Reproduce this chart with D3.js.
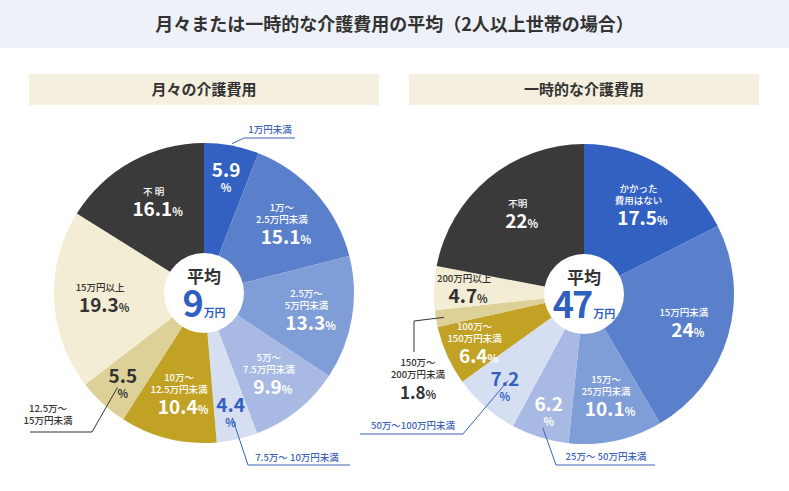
<!DOCTYPE html>
<html><head><meta charset="utf-8">
<script src="https://cdn.jsdelivr.net/npm/d3@7"></script>
<style>body{margin:0;background:#fff;font-family:"Noto Sans CJK JP","Noto Sans",sans-serif}</style>
</head><body><div id="chart"></div>
<script>
// monthly costs
const monthlyLabels = [["1万円未満"], ["1万～", "2.5万円未満"], ["2.5万～", "5万円未満"], ["5万～", "7.5万円未満"], ["7.5万～ 10万円未満"], ["10万～", "12.5万円未満"], ["12.5万～", "15万円未満"], ["15万円以上"], ["不 明"]];
const monthlyValues = [5.9, 15.1, 13.3, 9.9, 4.4, 10.4, 5.5, 19.3, 16.1];
// one-off costs
const onceLabels = [["かかった", "費用はない"], ["15万円未満"], ["15万～", "25万円未満"], ["25万～ 50万円未満"], ["50万～100万円未満"], ["100万～", "150万円未満"], ["150万～", "200万円未満"], ["200万円以上"], ["不明"]];
const onceValues = [17.5, 24, 10.1, 6.2, 7.2, 6.4, 1.8, 4.7, 22];
const averages = [9, 47];

const colours = ["#3361c1", "#5a80cc", "#7f9dd7", "#a8bae3", "#d6dff1", "#c2a224", "#ddd197", "#f2edd4", "#3a3a3a"];

const W = 789, H = 491;
const svg = d3.select("#chart").append("svg").attr("width", W).attr("height", H);

// header
svg.append("rect").attr("width", W).attr("height", 48).attr("fill", "#eef1f8");
svg.append("text").attr("x", W / 2).attr("y", 31).attr("text-anchor", "middle")
    .attr("font-size", 18).attr("font-weight", 700).attr("fill", "#333")
    .text("月々または一時的な介護費用の平均（2人以上世帯の場合）");

function drawPie(cx, cy, title, labels, values, avg, outside) {
    const R = 150;
    svg.append("rect").attr("x", cx - 175).attr("y", 74).attr("width", 350).attr("height", 31).attr("fill", "#f4efdf");
    svg.append("text").attr("x", cx).attr("y", 95).attr("text-anchor", "middle")
        .attr("font-size", 15).attr("font-weight", 700).attr("fill", "#333").text(title);

    const g = svg.append("g").attr("transform", `translate(${cx},${cy})`);
    const pie = d3.pie().sort(null).value(d => d)(values);
    const arc = d3.arc().innerRadius(0).outerRadius(R);
    g.selectAll("path").data(pie).join("path").attr("d", arc)
        .attr("fill", (d, i) => colours[i]);

    pie.forEach((d, i) => {
        const mid = (d.startAngle + d.endAngle) / 2;
        const o = outside[i];
        const small = d.value < 8;
        const rr = small ? 120 : 104;
        const x = Math.sin(mid) * rr, y = -Math.cos(mid) * rr;
        const dark = i >= 6 && i <= 7;
        const fill = i === 8 ? "#fff" : (dark ? "#333" : (i === 4 ? "#3361c1" : "#fff"));
        const t = g.append("text").attr("text-anchor", "middle").attr("fill", fill).attr("font-weight", 700);
        const names = (o && o.name) ? [] : labels[i];
        let yy = y - (names.length * 12 + 20) / 2 + 9;
        names.forEach(n => {
            t.append("tspan").attr("x", x).attr("y", yy).attr("font-size", 9.5).attr("font-weight", 500).text(n);
            yy += 12;
        });
        if (o && o.stack) {
            t.append("tspan").attr("x", x).attr("y", y + 2).attr("font-size", 19).text(d.value);
            t.append("tspan").attr("x", x).attr("y", y + 17).attr("font-size", 11).text("%");
        } else if (!(o && o.valueOut)) {
            t.append("tspan").attr("x", x + 4).attr("y", yy + 9).attr("font-size", 19).text(d.value)
                .append("tspan").attr("font-size", 11).text("%");
        }
        if (o && o.name) {
            const sx = Math.sin(mid) * (o.r || R * 0.92), sy = -Math.cos(mid) * (o.r || R * 0.92);
            const pts = [[sx, sy], ...o.path];
            g.append("path").attr("d", d3.line()(pts)).attr("fill", "none")
                .attr("stroke", o.col).attr("stroke-width", 1);
            const lt = g.append("text").attr("text-anchor", o.anchor || "middle").attr("fill", o.col).attr("font-weight", 500);
            let ly = o.ty;
            labels[i].forEach(n => {
                lt.append("tspan").attr("x", o.tx).attr("y", ly).attr("font-size", 9.5).text(n);
                ly += 12;
            });
            if (o.valueOut) {
                lt.append("tspan").attr("x", o.tx).attr("y", ly + 9).attr("font-size", 17).attr("font-weight", 700).text(d.value)
                    .append("tspan").attr("font-size", 11).text("%");
            }
        }
    });

    g.append("circle").attr("r", 40).attr("fill", "#fff");
    g.append("text").attr("y", -10).attr("text-anchor", "middle").attr("font-size", 17)
        .attr("font-weight", 700).attr("fill", "#333").text("平均");
    const a = g.append("text").attr("y", 24).attr("text-anchor", "middle").attr("fill", "#2f5fbf").attr("font-weight", 700);
    a.append("tspan").attr("font-size", 36).attr("letter-spacing", -2).text(avg);
    a.append("tspan").attr("font-size", 11).attr("dx", 2).text("万円");
}

const blue = "#3d63b8", ink = "#333";
drawPie(204, 293, "月々の介護費用", monthlyLabels, monthlyValues, averages[0], [
    { name: true, stack: true, col: blue, r: 152, path: [[40, -155], [91, -155]], tx: 66, ty: -160 },
    null, null, null,
    { name: true, stack: true, col: blue, r: 128, path: [[44, 172], [146, 172]], tx: 93, ty: 168 },
    null,
    { name: true, stack: true, col: ink, r: 128, path: [[-112, 139], [-174, 139]], tx: -156, ty: 119 },
    null, null
]);
drawPie(584, 294, "一時的な介護費用", onceLabels, onceValues, averages[1], [
    null, null, null,
    { name: true, stack: true, col: blue, r: 140, path: [[-28, 171], [71, 171]], tx: 22, ty: 166 },
    { name: true, stack: true, col: blue, r: 115, path: [[-121, 140], [-224, 140]], tx: -171, ty: 135 },
    null,
    { name: true, valueOut: true, col: ink, r: 142, path: [[-170, 27], [-170, 58]], tx: -166, ty: 72 },
    null, null
]);
</script></body></html>
